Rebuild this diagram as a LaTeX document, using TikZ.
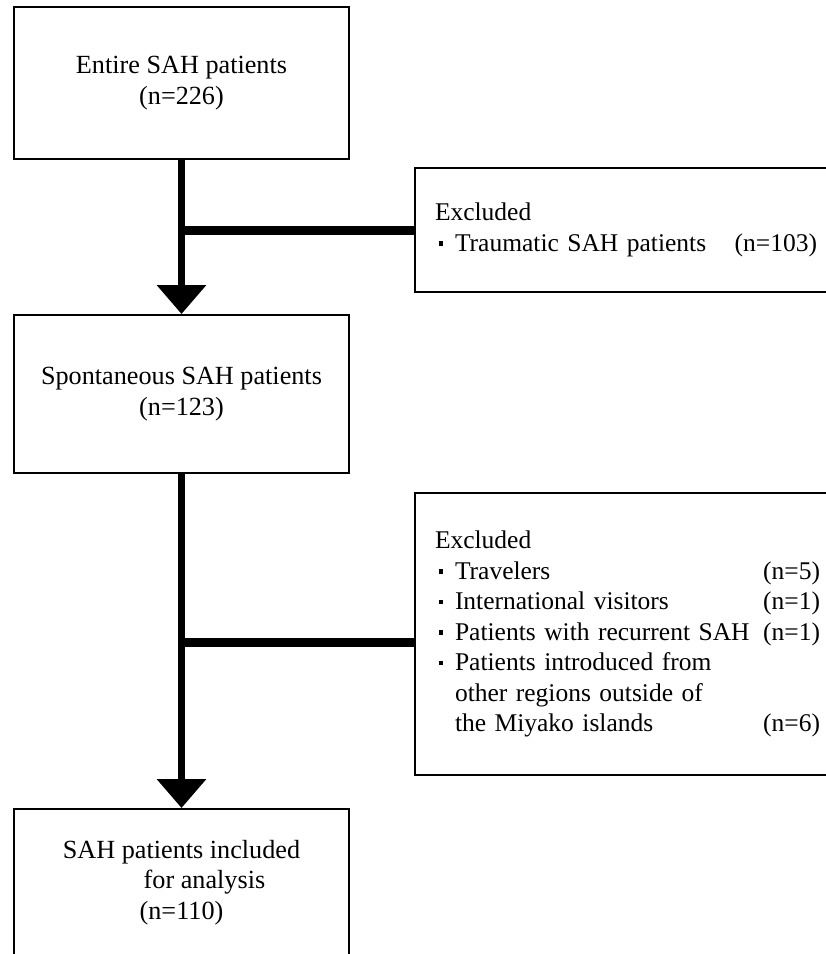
\documentclass[tikz,border=0pt]{standalone}
\usepackage{fontspec}
\setmainfont{Liberation Serif}
\usetikzlibrary{arrows.meta,positioning}

\newcommand{\exdot}{\raisebox{5.5pt}{\rule{4.5pt}{4.5pt}}}
\newcommand{\exitem}[2]{\makebox[385pt][l]{\makebox[20pt][l]{\hspace{3.5pt}\exdot}#1\hfill#2}}
\newcommand{\excont}[2]{\makebox[385pt][l]{\hspace*{20pt}#1\hfill#2}}

\begin{document}
\begin{tikzpicture}[
  x=1pt, y=-1pt,
  box/.style={rectangle, draw, line width=2pt, align=center, minimum width=335pt, font=\fontsize{26.2}{30.5}\selectfont},
  exbox/.style={rectangle, draw, line width=2pt, align=left, anchor=west, text width=385pt, inner xsep=20pt, font=\fontsize{25.5}{30.5}\selectfont},
  trunk/.style={-{Triangle[length=29pt,width=48pt]}, line width=7pt},
  branch/.style={line width=9pt}
]
\clip (0,0) rectangle (826,954);
\node[box, minimum height=152pt] at (181.5,83) (all) {Entire SAH patients\\(n=226)};
\node[box, minimum height=158pt, below=154pt of all] (spont) {Spontaneous SAH patients\\(n=123)};
\node[box, minimum height=147pt, below=334pt of spont] (incl) {SAH patients included\\\hspace*{46pt}for analysis\\(n=110)};
\node[exbox, minimum height=124pt] at (414,230) (ex1) {Excluded\\\exitem{Traumatic SAH patients}{(n=103)\hspace*{3pt}}};
\node[exbox, minimum height=282pt] at (414,634) (ex2) {Excluded\\
  \exitem{Travelers}{(n=5)}\\
  \exitem{International visitors}{(n=1)}\\
  \exitem{Patients with recurrent SAH}{(n=1)}\\
  \exitem{Patients introduced from}{}\\
  \excont{other regions outside of}{}\\
  \excont{the Miyako islands}{(n=6)}};

\draw[trunk] (all) -- (spont);
\draw[trunk] (spont) -- (incl);
\draw[branch] (ex1.west) -- (ex1.west -| all.south);
\draw[branch] ([yshift=-8pt]ex2.west) -- ([yshift=-8pt]ex2.west -| spont.south);
\end{tikzpicture}
\end{document}
